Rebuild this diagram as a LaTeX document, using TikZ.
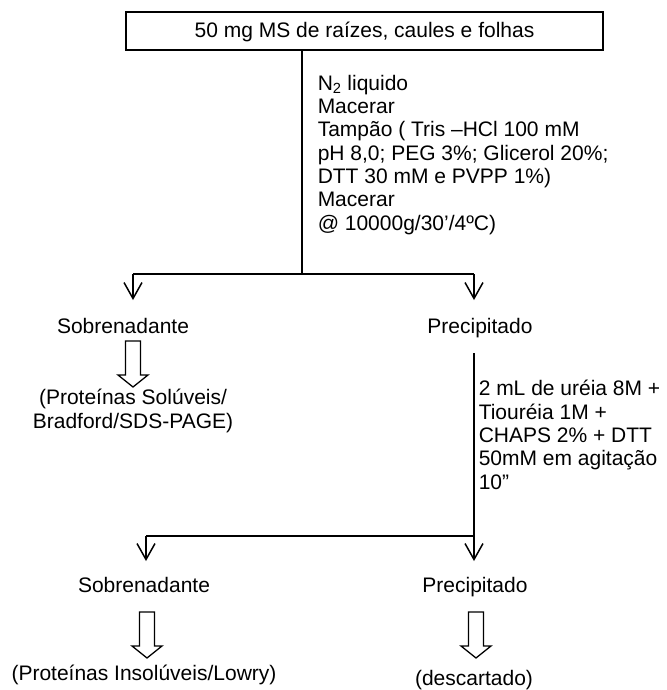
\documentclass[tikz,border=0pt]{standalone}
\usepackage{fontspec}
\setmainfont{Liberation Sans}
\usetikzlibrary{arrows.meta}

\begin{document}
\begin{tikzpicture}[x=1pt,y=-1pt,>={Straight Barb[length=16pt,width=18pt]},line width=1.5pt,
  font=\fontsize{21}{23.3}\selectfont,
  lbl/.style={inner sep=0pt,anchor=base},
  steps/.style={inner sep=0pt,anchor=base west,align=left},
  hollow/.pic={\draw[line width=1.3pt] (-7.5,0) -- (-7.5,34) -- (-15,34) -- (0,46)
    -- (15,34) -- (7.5,34) -- (7.5,0) -- cycle;}]
  \useasboundingbox (0,0) rectangle (666,690);

  \node[draw,minimum width=477pt,minimum height=38pt,text height=14pt,text depth=0pt]
    (src) at (364.5,31) {50 mg MS de raízes, caules e folhas};

  \coordinate (j1) at (302,274);
  \coordinate (j1l) at (133,274);
  \coordinate (j1r) at (474,274);
  \coordinate (j2) at (474,536);
  \coordinate (j2l) at (146,536);

  % base of a multi-line node = its last line
  \node[steps] (prep) at (317,230) {N\textsubscript{2} liquido\\Macerar\\Tampão ( Tris –HCl 100 mM\\pH 8,0; PEG 3\%; Glicerol 20\%;\\DTT 30 mM e PVPP 1\%)\\Macerar\\@ 10000g/30’/4ºC)};
  \node[lbl] (sob1) at (123,333) {Sobrenadante};
  \node[lbl] (prec1) at (480,333) {Precipitado};
  \node[lbl,align=center] (sol) at (133,428) {(Proteínas Solúveis/\\Bradford/SDS-PAGE)};
  \node[steps] (chaps) at (478,489) {2 mL de uréia 8M +\\Tiouréia 1M +\\CHAPS 2\% + DTT\\50mM em agitação\\10”};
  \node[lbl] (sob2) at (144,592) {Sobrenadante};
  \node[lbl] (prec2) at (475,592) {Precipitado};
  \node[lbl] (lowry) at (144,680) {(Proteínas Insolúveis/Lowry)};
  \node[lbl] (desc) at (474,685) {(descartado)};

  \draw (src.south -| j1) -- (j1);
  \draw (j1l) -- (j1r);
  \draw[->,shorten >=17pt] (j1l) -- (j1l |- sob1.north);
  \draw[->,shorten >=17pt] (j1r) -- (j1r |- prec1.north);
  \pic at (133,341) {hollow};

  \draw[shorten <=15pt] (j2 |- prec1.south) -- (j2);
  \draw (j2l) -- (j2);
  \draw[->,shorten >=15pt] (j2l) -- (j2l |- sob2.north);
  \draw[->,shorten >=15pt] (j2) -- (j2 |- prec2.north);
  \pic at (147,612) {hollow};
  \pic at (476,612) {hollow};
\end{tikzpicture}
\end{document}
